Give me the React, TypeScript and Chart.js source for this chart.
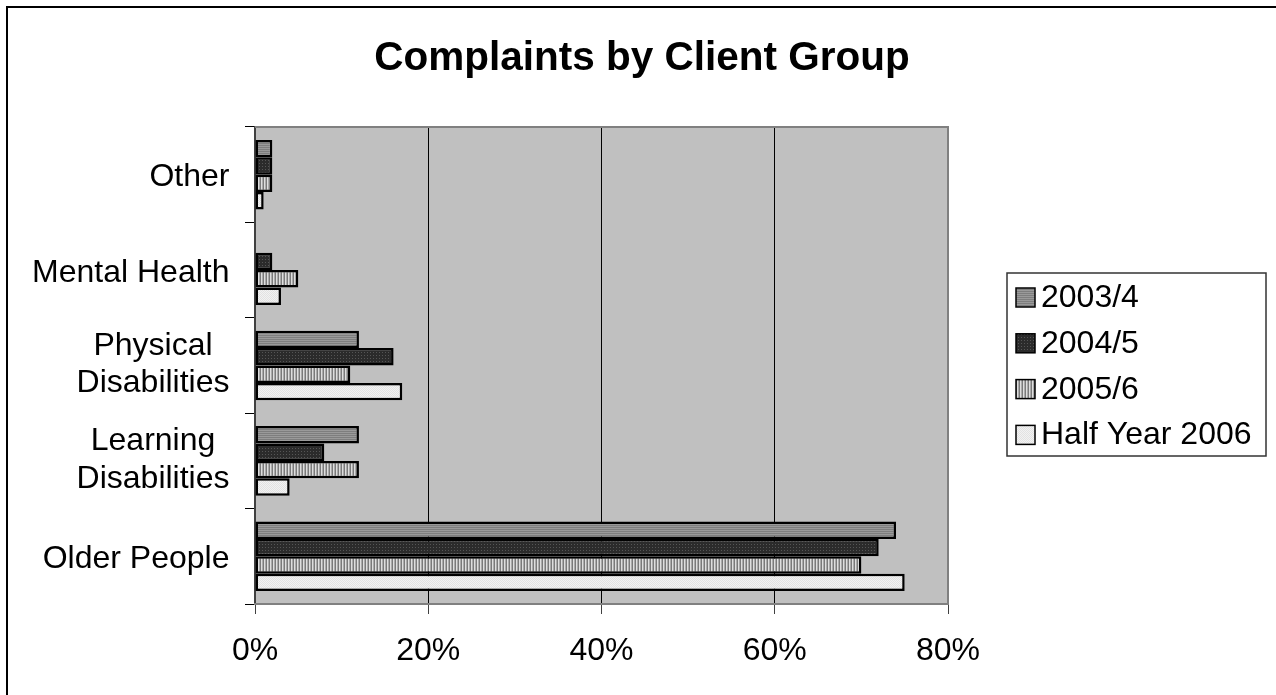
import { useEffect, useRef } from 'react';
import { Chart, registerables } from 'chart.js';

Chart.register(...registerables);

// Client groups, top to bottom; nested arrays are multi-line labels
const categories: (string | string[])[] = [
  'Other',
  'Mental Health',
  ['Physical', 'Disabilities'],
  ['Learning', 'Disabilities'],
  'Older People',
];

const seriesNames = ['2003/4', '2004/5', '2005/6', 'Half Year 2006'];

// Share of complaints (%) per client group, same order as categories
const values2003 = [2, 0, 12, 12, 74];
const values2004 = [2, 2, 16, 8, 72];
const values2005 = [2, 5, 11, 12, 70];
const valuesHalf2006 = [1, 3, 17, 4, 75];

const xTickValues = [0, 20, 40, 60, 80];
const chartTitle = 'Complaints by Client Group';

const FONT = '"Liberation Sans", Arial, sans-serif';

function makePattern(w: number, h: number, paint: (g: CanvasRenderingContext2D) => void) {
  const c = document.createElement('canvas');
  c.width = w;
  c.height = h;
  const g = c.getContext('2d')!;
  paint(g);
  return g.createPattern(c, 'repeat')!;
}

function buildFills() {
  // horizontal stripes, medium grey
  const stripesH = makePattern(1, 2, (g) => {
    g.fillStyle = '#9a9a9a';
    g.fillRect(0, 0, 1, 1);
    g.fillStyle = '#7e7e7e';
    g.fillRect(0, 1, 1, 1);
  });
  // dark with fine dots
  const dots = makePattern(3, 3, (g) => {
    g.fillStyle = '#2b2b2b';
    g.fillRect(0, 0, 3, 3);
    g.fillStyle = '#555555';
    g.fillRect(1, 1, 1, 1);
  });
  // vertical stripes, light grey
  const stripesV = makePattern(3, 1, (g) => {
    g.fillStyle = '#dedede';
    g.fillRect(0, 0, 1, 1);
    g.fillStyle = '#ababab';
    g.fillRect(1, 0, 1, 1);
    g.fillStyle = '#7a7a7a';
    g.fillRect(2, 0, 1, 1);
  });
  // near-white dither
  const light = makePattern(2, 2, (g) => {
    g.fillStyle = '#f2f2f2';
    g.fillRect(0, 0, 2, 2);
    g.fillStyle = '#e2e2e2';
    g.fillRect(0, 0, 1, 1);
    g.fillRect(1, 1, 1, 1);
  });
  return [stripesH, dots, stripesV, light];
}

export default function App() {
  const canvasRef = useRef<HTMLCanvasElement | null>(null);

  useEffect(() => {
    const canvas = canvasRef.current;
    if (!canvas) return;
    const fills = buildFills();
    const seriesValues = [values2003, values2004, values2005, valuesHalf2006];

    const decorations = {
      id: 'decorations',
      beforeDraw(chart: any) {
        const { ctx, chartArea } = chart;
        ctx.save();
        ctx.fillStyle = '#ffffff';
        ctx.fillRect(0, 0, chart.width, chart.height);
        ctx.fillStyle = '#c0c0c0';
        ctx.fillRect(chartArea.left, chartArea.top, chartArea.right - chartArea.left, chartArea.bottom - chartArea.top);
        ctx.restore();
      },
      afterDraw(chart: any) {
        const { ctx, chartArea } = chart;
        const yScale = chart.scales.y;
        ctx.save();

        // plot frame (top and right)
        ctx.strokeStyle = '#808080';
        ctx.lineWidth = 2;
        ctx.beginPath();
        ctx.moveTo(chartArea.left, chartArea.top);
        ctx.lineTo(chartArea.right, chartArea.top);
        ctx.lineTo(chartArea.right, chartArea.bottom);
        ctx.stroke();

        // outer frame
        ctx.strokeStyle = '#000000';
        ctx.lineWidth = 2;
        ctx.strokeRect(7, 7, chart.width + 20, chart.height + 20);

        // title
        ctx.fillStyle = '#000000';
        ctx.font = `bold 40.5px ${FONT}`;
        ctx.textAlign = 'center';
        ctx.textBaseline = 'alphabetic';
        ctx.fillText(chartTitle, 642, 70);

        // category labels: block right-aligned, lines centred within the block
        ctx.font = `32px ${FONT}`;
        const labelRight = 229.5;
        categories.forEach((label, i) => {
          const lines = Array.isArray(label) ? label : [label];
          const cy = yScale.getPixelForTick(i);
          const blockW = Math.max(...lines.map((l) => ctx.measureText(l).width));
          const cx = labelRight - blockW / 2;
          ctx.textAlign = 'center';
          if (lines.length === 1) {
            ctx.fillText(lines[0], cx, cy + 11.5);
          } else {
            lines.forEach((l, k) => {
              ctx.fillText(l, cx, cy + 8 + (k - (lines.length - 1) / 2) * 37.7);
            });
          }
        });

        // legend
        const lx = 1007;
        const ly = 273;
        ctx.strokeStyle = '#333333';
        ctx.lineWidth = 1.5;
        ctx.strokeRect(lx, ly, 259, 183);
        ctx.textAlign = 'left';
        chart.data.datasets.forEach((ds: any, i: number) => {
          const rowY = i * 45.8;
          ctx.fillStyle = ds.backgroundColor;
          ctx.fillRect(1016, 288 + rowY, 19, 19);
          ctx.strokeStyle = '#000000';
          ctx.lineWidth = 1.5;
          ctx.strokeRect(1016, 288 + rowY, 19, 19);
          ctx.fillStyle = '#000000';
          ctx.fillText(ds.label, 1041, 307 + rowY);
        });
        ctx.restore();
      },
    };

    const chart = new Chart(canvas, {
      type: 'bar',
      data: {
        labels: categories as any,
        datasets: seriesNames.map((name, i) => ({
          label: name,
          data: seriesValues[i],
          backgroundColor: fills[i] as any,
          borderColor: '#000000',
          borderWidth: 2.5,
          borderSkipped: false,
          categoryPercentage: 0.73,
          barPercentage: 1,
        })),
      },
      options: {
        indexAxis: 'y',
        animation: false,
        responsive: false,
        maintainAspectRatio: false,
        events: [],
        layout: { padding: { top: 127, right: 328, bottom: 0, left: 0 } },
        plugins: {
          legend: { display: false },
          title: { display: false },
          tooltip: { enabled: false },
        },
        scales: {
          y: {
            type: 'category',
            offset: true,
            grid: {
              display: true,
              drawOnChartArea: false,
              drawTicks: true,
              tickLength: 10,
              offset: true,
              color: '#000000',
              tickColor: '#000000',
            },
            border: { display: true, color: '#404040', width: 2 },
            ticks: { display: false },
            afterFit: (s: any) => {
              s.width = 255;
            },
          },
          x: {
            type: 'linear',
            min: xTickValues[0],
            max: xTickValues[xTickValues.length - 1],
            afterBuildTicks: (s: any) => {
              s.ticks = xTickValues.map((v) => ({ value: v }));
            },
            ticks: {
              callback: (v: any) => `${v}%`,
              color: '#000000',
              font: { size: 32, family: FONT },
              padding: 18,
              maxRotation: 0,
            },
            grid: {
              color: (c: any) =>
                c.tick && (c.tick.value === xTickValues[0] || c.tick.value === xTickValues[xTickValues.length - 1])
                  ? 'rgba(0,0,0,0)'
                  : '#000000',
              lineWidth: 1,
              drawTicks: true,
              tickLength: 10,
              tickColor: '#404040',
            },
            border: { display: true, color: '#808080', width: 2 },
            afterFit: (s: any) => {
              s.height = 91;
            },
          },
        },
      },
      plugins: [decorations],
    });

    return () => chart.destroy();
  }, []);

  return (
    <div style={{ position: 'absolute', left: 0, top: 0, width: 1276, height: 695, overflow: 'hidden', background: '#fff' }}>
      <canvas ref={canvasRef} width={1276} height={695} style={{ display: 'block' }} />
    </div>
  );
}
